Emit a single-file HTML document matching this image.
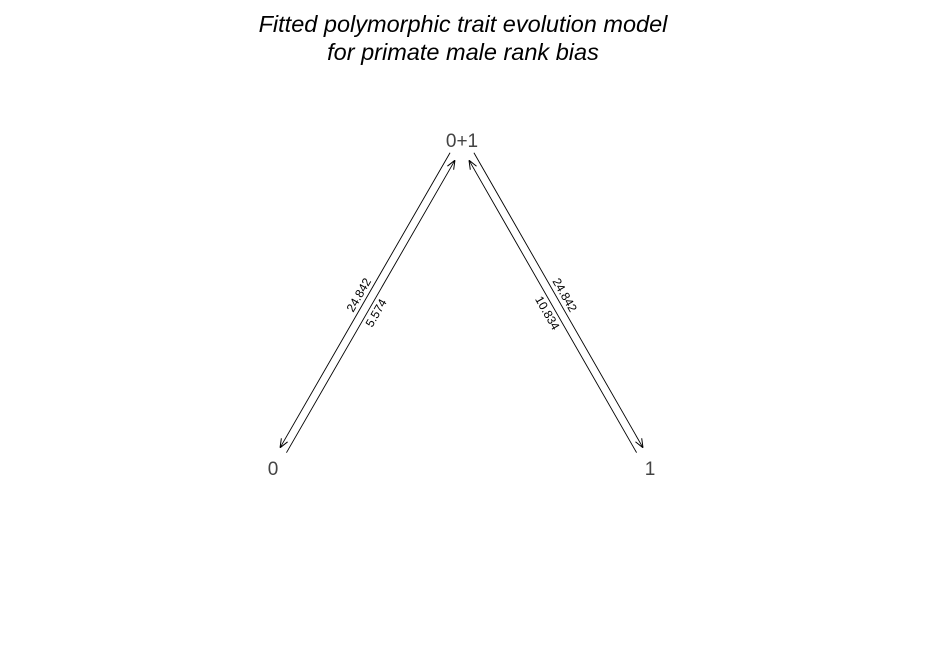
<!DOCTYPE html>
<html><head><meta charset="utf-8"><style>
html,body{margin:0;padding:0;background:#fff;}
svg{display:block;font-family:"Liberation Sans",sans-serif;}
</style></head><body>
<svg width="926" height="666" viewBox="0 0 926 666">
<defs>
<marker id="ah" viewBox="0 0 10 10" refX="10" refY="5" markerWidth="9" markerHeight="9" orient="auto" markerUnits="userSpaceOnUse">
<path d="M0,1 L10,5 L0,9" fill="none" stroke="#000" stroke-width="1.1"/>
</marker>
</defs>
<text x="463" y="32" font-size="23.5" font-style="italic" text-anchor="middle" fill="#000">Fitted polymorphic trait evolution model</text>
<text x="463" y="60" font-size="23.5" font-style="italic" text-anchor="middle" fill="#000">for primate male rank bias</text>
<g id="g"></g>
</svg>
<script>
const nodeNames=["0","0+1","1"];
const nodeX=[273,462,650];
const nodeY=[468,140,468];
const fromNode=[1,0,1,2];
const toNode=[0,1,2,1];
const rates=["24.842","5.574","24.842","10.834"];
const g=document.getElementById('g');
const NS='http://www.w3.org/2000/svg';
const cx=462,cy=360;
nodeNames.forEach((n,i)=>{
  const t=document.createElementNS(NS,'text');
  
  
  t.setAttribute('x',nodeX[i]);t.setAttribute('y',nodeY[i]+7);
  t.setAttribute('font-size','19');t.setAttribute('text-anchor','middle');t.setAttribute('fill','#444');
  t.textContent=n;g.appendChild(t);
});
fromNode.forEach((f,k)=>{
  const to=toNode[k];
  let x1=nodeX[f],y1=nodeY[f],x2=nodeX[to],y2=nodeY[to];
  const dx=x2-x1,dy=y2-y1,L=Math.hypot(dx,dy),ux=dx/L,uy=dy/L;
  let px=-uy,py=ux;
  const mx0=(x1+x2)/2,my0=(y1+y2)/2;
  // make perpendicular point outward from center
  if(px*(mx0-cx)+py*(my0-cy)<0){px=-px;py=-py;}
  const outer=nodeY[f]<nodeY[to];
  const sgn=outer?1:-1, off=4*sgn;
  const s1=(nodeY[f]<300)?17:20, s2=21;
  const ax=x1+ux*s1+px*off, ay=y1+uy*s1+py*off;
  const bx=x2-ux*s2+px*off, by=y2-uy*s2+py*off;
  const l=document.createElementNS(NS,'line');
  
  
  l.setAttribute('x1',ax);l.setAttribute('y1',ay);l.setAttribute('x2',bx);l.setAttribute('y2',by);
  l.setAttribute('stroke','#000');l.setAttribute('stroke-width','0.9');l.setAttribute('marker-end','url(#ah)');
  g.appendChild(l);
  const mx=mx0+px*(off+6*sgn), my=my0+py*(off+6*sgn)+(outer?-4:4);
  let ang=Math.atan2(dy,dx)*180/Math.PI;
  if(ang>90)ang-=180; if(ang<-90)ang+=180;
  const t=document.createElementNS(NS,'text');
  
  
  t.setAttribute('x',mx);t.setAttribute('y',my);
  t.setAttribute('font-size','12');t.setAttribute('text-anchor','middle');t.setAttribute('dominant-baseline','central');
  t.setAttribute('fill','#000');
  t.setAttribute('transform','rotate('+ang+' '+mx+' '+my+')');
  t.textContent=rates[k];g.appendChild(t);
});
</script>
</body></html>
